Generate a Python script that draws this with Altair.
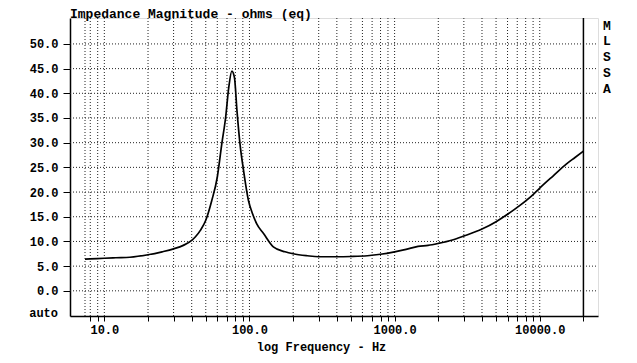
import altair as alt
import pandas as pd

freq = [7.36, 8, 10, 12, 15, 20, 25, 30, 35, 40, 42.3, 46, 50, 55, 60, 64.5, 68.5, 72, 75.6,
        78.8, 82, 86, 91, 98.4, 105, 112, 125, 146, 176, 200, 250, 300, 400, 500, 650, 800,
        1000, 1200, 1450, 1700, 2000, 2500, 3000, 4000, 5000, 6000, 7300, 9000, 10000,
        12400, 15300, 17500, 20000]
ohms = [6.4, 6.45, 6.6, 6.7, 6.8, 7.3, 7.9, 8.5, 9.2, 10.2, 10.9, 12.3, 14.3, 18.3, 23.0, 29.8,
        35.1, 41.2, 44.5, 43.2, 36.5, 29.8, 24.4, 18.3, 15.6, 13.6, 11.6, 8.9, 7.9, 7.5,
        7.1, 6.9, 6.9, 6.95, 7.1, 7.4, 7.9, 8.4, 9.0, 9.2, 9.6, 10.3, 11.1, 12.5, 14.0, 15.5,
        17.3, 19.5, 20.8, 23.3, 25.7, 27.0, 28.3]

grid_x = [7.36, 8, 9, 10, 20, 30, 40, 50, 60, 70, 80, 90, 100, 200, 300, 400, 500, 600, 700,
          800, 900, 1000, 2000, 3000, 4000, 5000, 6000, 7000, 8000, 9000, 10000]
tick_x = [8, 9, 10, 20, 30, 40, 50, 60, 70, 80, 90, 100, 200, 300, 400, 500, 600, 700,
          800, 900, 1000, 2000, 3000, 4000, 5000, 6000, 7000, 8000, 9000, 10000, 20000]
grid_y = [0, 5, 10, 15, 20, 25, 30, 35, 40, 45, 50]
side_letters = ["M", "L", "S", "S", "A"]
title_text = "Impedance Magnitude - ohms (eq)"

W, H = 528, 298
PAD_L, PAD_T = 62, 10
PAD_R = 637 - 16 - PAD_L - W
PAD_B = 363 - 16 - PAD_T - H
FONT = "Liberation Mono"

xscale = alt.Scale(type="log", domain=[5.8, 25200], nice=False)
yscale = alt.Scale(domain=[-5.1, 55.25], nice=False, zero=False)

curve_df = pd.DataFrame({"f": freq, "z": ohms})
gx_df = pd.DataFrame({"f": grid_x})
gy_df = pd.DataFrame({"z": grid_y})

xaxis = alt.Axis(
    values=tick_x,
    labelExpr="(datum.value==10||datum.value==100||datum.value==1000||datum.value==10000) ? format(datum.value,'.1f') : ''",
    grid=False, tickSize=5, tickColor="black", domainColor="black", domainWidth=1.5,
    labelFont=FONT, labelFontSize=12, labelFontWeight="bold", labelColor="black",
    labelPadding=3, labelOverlap=False, labelFlush=False,
    title="log Frequency - Hz", titleFont=FONT, titleFontSize=12, titleFontWeight="bold",
    titleColor="black", titlePadding=6, titleX=251, titleAlign="center",
)
yaxis = alt.Axis(
    values=grid_y, format=".1f", grid=False, tickSize=7, tickColor="black",
    domainColor="black", domainWidth=1.5,
    labelFont=FONT, labelFontSize=12, labelFontWeight="bold", labelColor="black",
    labelPadding=5, title=None,
)

hgrid = alt.Chart(gy_df).mark_rule(color="#222", strokeDash=[1, 2], strokeWidth=1).encode(
    y=alt.Y("z:Q", scale=yscale, axis=yaxis),
    x=alt.value(0), x2=alt.value(W),
)
vgrid = alt.Chart(gx_df).mark_rule(color="#222", strokeDash=[1, 2], strokeWidth=1).encode(
    x=alt.X("f:Q", scale=xscale, axis=xaxis),
    y=alt.value(0), y2=alt.value(H),
)
endline = alt.Chart(pd.DataFrame({"f": [20000]})).mark_rule(color="black", strokeWidth=1.5).encode(
    x=alt.X("f:Q", scale=xscale),
    y=alt.value(0), y2=alt.value(H),
)
line = alt.Chart(curve_df).mark_line(color="black", strokeWidth=1.7, interpolate="monotone").encode(
    x=alt.X("f:Q", scale=xscale),
    y=alt.Y("z:Q", scale=yscale, axis=None),
)
auto_txt = alt.Chart(pd.DataFrame({"t": ["auto"]})).mark_text(
    font=FONT, fontSize=12, fontWeight="bold", align="right", baseline="middle", color="black"
).encode(text="t:N", x=alt.value(-12), y=alt.value(H - 3))

title_txt = alt.Chart(pd.DataFrame({"t": [title_text]})).mark_text(
    font=FONT, fontSize=13, fontWeight="bold", align="left", baseline="top", color="black"
).encode(text="t:N", x=alt.value(0), y=alt.value(-PAD_T))

side_df = pd.DataFrame({"t": side_letters, "i": list(range(len(side_letters)))})
side_txt = alt.Chart(side_df).mark_text(
    font=FONT, fontSize=13, fontWeight="bold", align="center", baseline="middle", color="black"
).encode(
    text="t:N",
    x=alt.value(W + 9),
    y=alt.Y("i:Q", scale=alt.Scale(domain=[0, 4], range=[7.5, 71]), axis=None),
)

chart = alt.layer(hgrid, vgrid, endline, line, auto_txt, title_txt, side_txt).resolve_scale(
    y="independent"
).properties(
    width=W, height=H,
    autosize=alt.AutoSizeParams(type="none"),
    padding={"left": PAD_L, "top": PAD_T, "right": PAD_R, "bottom": PAD_B},
).configure_view(stroke="black", strokeWidth=1.5).configure(background="white")

chart.save("out.html", embed_options={"renderer": "svg", "actions": False})
